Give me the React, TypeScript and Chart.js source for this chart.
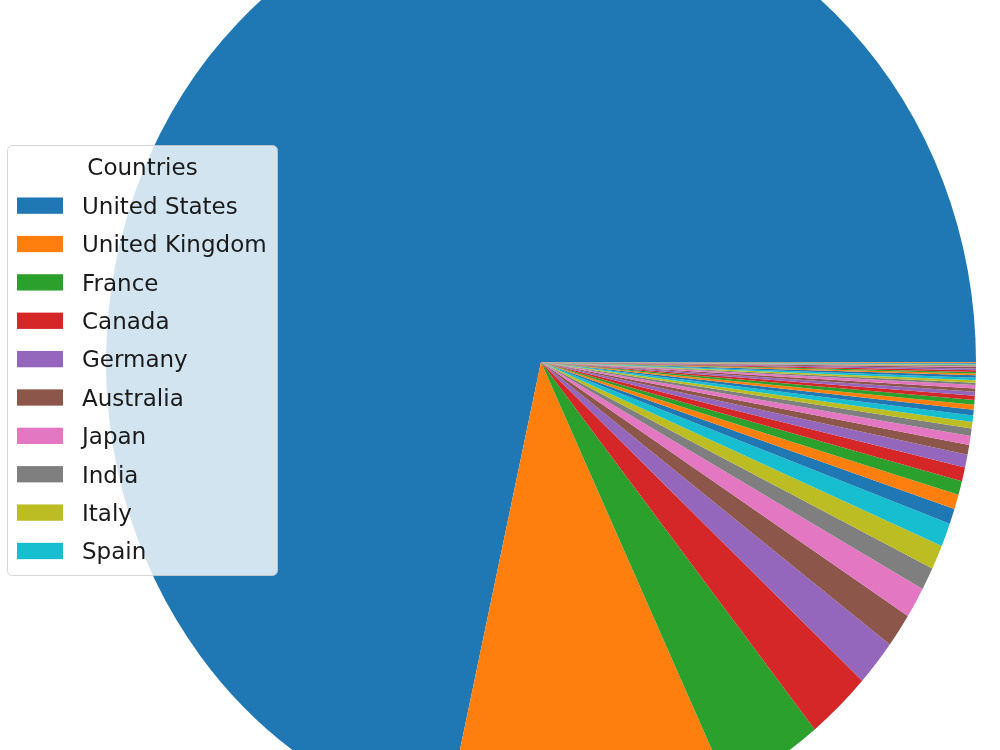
import React, { useEffect, useRef } from "react";
import { Chart, registerables } from "chart.js";

Chart.register(...registerables);

// ---- data -------------------------------------------------------------
const countries: string[] = [
  "United States", "United Kingdom", "France", "Canada", "Germany",
  "Australia", "Japan", "India", "Italy", "Spain",
  "South Korea", "Mexico", "China", "Belgium", "Hong Kong",
  "Netherlands", "Sweden", "Denmark", "Brazil", "Ireland",
  "New Zealand", "Argentina", "Norway", "South Africa", "Switzerland",
  "Poland", "Israel", "Russia", "Austria", "Czech Republic",
  "Finland", "Turkey", "Thailand", "Taiwan", "Singapore",
  "Philippines", "Indonesia", "Egypt", "Nigeria", "Portugal",
  "Greece", "Hungary",
];

const counts: number[] = [
  2572, 384, 134, 86, 57,
  42, 38, 28, 30, 29,
  19, 18, 17, 17, 16,
  12, 11, 9, 8, 8,
  7, 6, 6, 5, 5,
  4, 4, 3, 3, 3,
  3, 2, 2, 2, 2,
  2, 1, 1, 1, 1,
  1, 1,
];

const palette: string[] = [
  "#1f77b4", "#ff7f0e", "#2ca02c", "#d62728", "#9467bd",
  "#8c564b", "#e377c2", "#7f7f7f", "#bcbd22", "#17becf",
];

const legendTitle = "Countries";
const legendCount = 10;

// ---- component --------------------------------------------------------
export default function App() {
  const ref = useRef<HTMLCanvasElement | null>(null);

  useEffect(() => {
    const canvas = ref.current;
    if (!canvas) return;

    const stretch = 1.087; // matplotlib pie without equal aspect -> ellipse

    const ellipsePlugin = {
      id: "ellipse",
      beforeDatasetsDraw(chart: any) {
        const { ctx, chartArea } = chart;
        const cx = (chartArea.left + chartArea.right) / 2;
        const cy = (chartArea.top + chartArea.bottom) / 2;
        ctx.save();
        ctx.translate(cx, cy);
        // vertical flip turns clockwise into counter-clockwise (matplotlib order)
        ctx.scale(1, -stretch);
        ctx.translate(-cx, -cy);
      },
      afterDatasetsDraw(chart: any) {
        chart.ctx.restore();
      },
    };

    const legendPlugin = {
      id: "mplLegend",
      afterDraw(chart: any) {
        const ctx: CanvasRenderingContext2D = chart.ctx;
        const labels: string[] = (chart.data.labels as string[]).slice(0, legendCount);
        const colors: string[] = chart.data.datasets[0].backgroundColor as string[];
        ctx.save();
        const x0 = 7.5, y0 = 145.5, w = 270, h = 430, r = 5;
        ctx.beginPath();
        if ((ctx as any).roundRect) {
          (ctx as any).roundRect(x0, y0, w, h, r);
        } else {
          ctx.rect(x0, y0, w, h);
        }
        ctx.fillStyle = "rgba(255,255,255,0.8)";
        ctx.fill();
        ctx.strokeStyle = "rgba(204,204,204,0.8)";
        ctx.lineWidth = 1;
        ctx.stroke();

        ctx.font = '23px "DejaVu Sans"';
        ctx.fillStyle = "#1a1a1a";
        ctx.textBaseline = "alphabetic";
        ctx.textAlign = "center";
        ctx.fillText(legendTitle, x0 + w / 2, 175);

        ctx.textAlign = "left";
        const step = 38.37;
        labels.forEach((lab, i) => {
          const base = 214 + i * step;
          ctx.fillStyle = colors[i];
          ctx.fillRect(17, base - 16.5, 46, 16.3);
          ctx.fillStyle = "#1a1a1a";
          ctx.fillText(lab, 82, base);
        });
        ctx.restore();
      },
    };

    const chart = new Chart(canvas, {
      type: "pie",
      data: {
        labels: countries,
        datasets: [
          {
            data: counts,
            backgroundColor: countries.map((_, i) => palette[i % palette.length]),
            borderWidth: 0,
            clip: false,
          } as any,
        ],
      },
      options: {
        responsive: false,
        animation: false,
        rotation: 90,
        radius: 435,
        layout: { padding: { left: 82, right: 0, top: 0, bottom: 26 } },
        plugins: {
          legend: { display: false },
          tooltip: { enabled: false },
        },
      } as any,
      plugins: [ellipsePlugin, legendPlugin],
    });

    return () => chart.destroy();
  }, []);

  return (
    <div
      style={{
        position: "absolute",
        left: 0,
        top: 0,
        width: 1000,
        height: 750,
        overflow: "hidden",
        background: "#ffffff",
      }}
    >
      <canvas
        ref={ref}
        width={1000}
        height={750}
        style={{ display: "block", width: 1000, height: 750 }}
      />
    </div>
  );
}
